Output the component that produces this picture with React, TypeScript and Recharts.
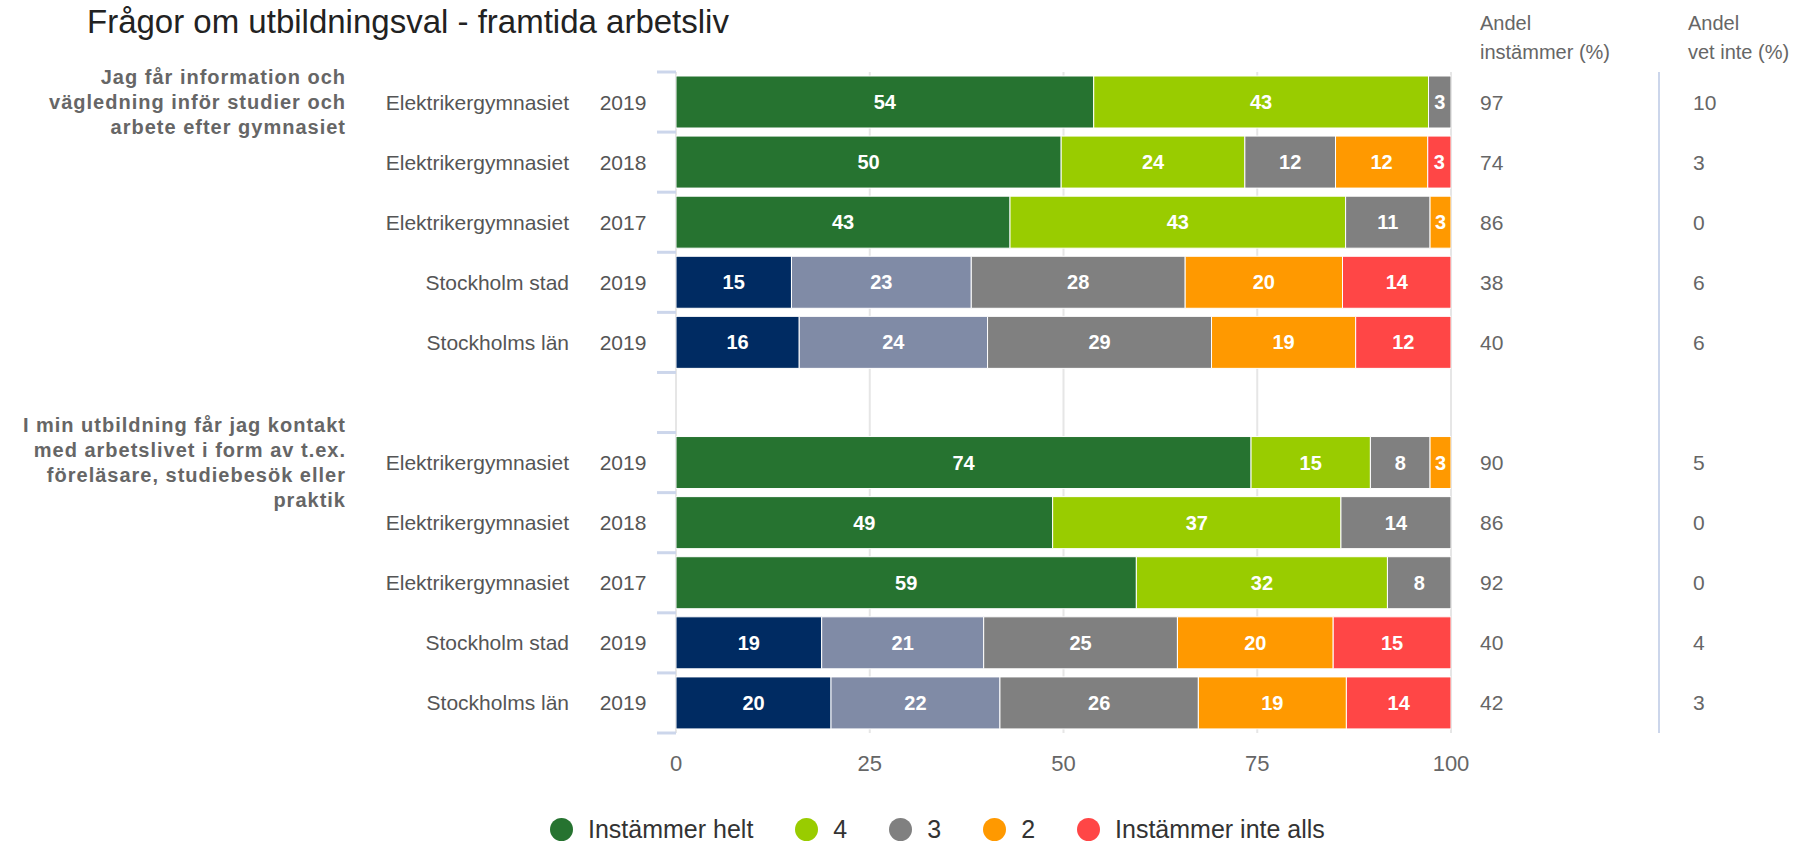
import React from "react";
import {
  BarChart,
  Bar,
  XAxis,
  YAxis,
  CartesianGrid,
  Cell,
  LabelList,
} from "recharts";

// rows, top to bottom (empty row = gap between the two questions)
const categories = [
  "Elektrikergymnasiet",
  "Elektrikergymnasiet",
  "Elektrikergymnasiet",
  "Stockholm stad",
  "Stockholms län",
  "",
  "Elektrikergymnasiet",
  "Elektrikergymnasiet",
  "Elektrikergymnasiet",
  "Stockholm stad",
  "Stockholms län",
];
const years = ["2019", "2018", "2017", "2019", "2019", "", "2019", "2018", "2017", "2019", "2019"];

const helt = [53.9, 49.7, 43.1, 14.9, 15.9, null, 74.2, 48.6, 59.4, 18.8, 20.0];
const fyra = [43.2, 23.7, 43.3, 23.2, 24.3, null, 15.4, 37.2, 32.4, 20.9, 21.8];
const tre = [2.9, 11.7, 10.9, 27.6, 28.9, null, 7.7, 14.2, 8.2, 25.0, 25.6];
const tva = [0, 11.9, 2.7, 20.3, 18.6, null, 2.7, 0, 0, 20.1, 19.1];
const inteAlls = [0, 3.0, 0, 14.0, 12.3, null, 0, 0, 0, 15.2, 13.5];

const andelInstammer = [97, 74, 86, 38, 40, null, 90, 86, 92, 40, 42];
const andelVetInte = [10, 3, 0, 6, 6, null, 5, 0, 0, 4, 3];

const questions = [
  { row: 0, lines: ["Jag får information och", "vägledning inför studier och", "arbete efter gymnasiet"] },
  {
    row: 6,
    lines: [
      "I min utbildning får jag kontakt",
      "med arbetslivet i form av t.ex.",
      "föreläsare, studiebesök eller",
      "praktik",
    ],
  },
];

const seriesNames = ["Instämmer helt", "4", "3", "2", "Instämmer inte alls"];
const seriesColors = ["#267330", "#99cc00", "#808080", "#ff9900", "#ff4646"];
const stockholmColors = ["#002b62", "#808ba6"];
const xTicks = [0, 25, 50, 75, 100];

const data = categories.map((name, i) => ({
  key: `r${i}`,
  name,
  year: years[i],
  helt: helt[i],
  fyra: fyra[i],
  tre: tre[i],
  tva: tva[i],
  inteAlls: inteAlls[i],
}));

const W = 1810;
const H = 841;
const PLOT_LEFT = 676;
const PLOT_RIGHT = 1451;
const PLOT_TOP = 72;
const PLOT_BOTTOM = 733;
const FONT = "'Liberation Sans', Arial, sans-serif";

const isStockholm = (i: number) => categories[i].startsWith("Stockholm");

const YTick = (props: any) => {
  const { y, payload } = props;
  const i = payload.index;
  const band = (PLOT_BOTTOM - PLOT_TOP) / data.length;
  const q = questions.find((g) => g.row === i);
  const lh = 25;
  return (
    <g fontFamily={FONT}>
      <line x1={657} x2={676} y1={y - band / 2} y2={y - band / 2} stroke="#ccd6eb" strokeWidth={3} />
      {i === data.length - 1 && (
        <line x1={657} x2={676} y1={y + band / 2} y2={y + band / 2} stroke="#ccd6eb" strokeWidth={3} />
      )}
      {categories[i] && (
        <text x={569} y={y} textAnchor="end" dominantBaseline="central" fontSize={21} fill="#555">
          {categories[i]}
        </text>
      )}
      {years[i] && (
        <text x={623} y={y} textAnchor="middle" dominantBaseline="central" fontSize={21} fill="#555">
          {years[i]}
        </text>
      )}
      {andelInstammer[i] != null && (
        <text x={1480} y={y} dominantBaseline="central" fontSize={21} fill="#666">
          {andelInstammer[i]}
        </text>
      )}
      {andelVetInte[i] != null && (
        <text x={1693} y={y} dominantBaseline="central" fontSize={21} fill="#666">
          {andelVetInte[i]}
        </text>
      )}
      {q &&
        q.lines.map((line, k) => (
          <text
            key={k}
            x={346}
            y={y + (k - (q.lines.length - 1) / 2) * lh}
            textAnchor="end"
            dominantBaseline="central"
            fontSize={20}
            fontWeight="bold"
            letterSpacing={1}
            fill="#666"
          >
            {line}
          </text>
        ))}
    </g>
  );
};

const renderLabel = (props: any) => {
  const { x, y, width, height, value } = props;
  if (value == null || value === "") return null;
  return (
    <text
      x={x + width / 2}
      y={y + height / 2}
      textAnchor="middle"
      dominantBaseline="central"
      fontFamily={FONT}
      fontSize={20}
      fontWeight="bold"
      fill="#fff"
    >
      {Math.round(Number(value))}
    </text>
  );
};

const seriesKeys = ["helt", "fyra", "tre", "tva", "inteAlls"];

export default function App() {
  return (
    <div style={{ position: "absolute", left: 0, top: 0, width: W, height: H, fontFamily: FONT, background: "#fff", overflow: "hidden" }}>
      <BarChart
        width={W}
        height={H}
        data={data}
        layout="vertical"
        margin={{ top: PLOT_TOP, right: W - PLOT_RIGHT, bottom: H - PLOT_BOTTOM - 50, left: 0 }}
      >
        <defs>
          <clipPath id="plotClip">
            <rect x={PLOT_LEFT} y={PLOT_TOP} width={PLOT_RIGHT - PLOT_LEFT} height={PLOT_BOTTOM - PLOT_TOP} />
          </clipPath>
        </defs>
        <CartesianGrid horizontal={false} stroke="#e6e6e6" strokeWidth={2} />
        <XAxis
          type="number"
          domain={[0, 100]}
          ticks={xTicks}
          allowDataOverflow
          height={50}
          axisLine={false}
          tickLine={false}
          tickSize={0}
          tickMargin={22}
          tick={{ fontSize: 22, fill: "#666", fontFamily: FONT }}
        />
        <YAxis
          type="category"
          dataKey="key"
          width={PLOT_LEFT}
          axisLine={false}
          tickLine={false}
          interval={0}
          tick={YTick}
        />
        {seriesKeys.map((k, s) => (
          <Bar
            key={k}
            dataKey={k}
            name={seriesNames[s]}
            stackId="a"
            fill={seriesColors[s]}
            stroke="#fff"
            strokeWidth={1}
            barSize={52}
            isAnimationActive={false}
          >
            {s < 2 &&
              data.map((_, i) => (
                <Cell key={i} fill={isStockholm(i) ? stockholmColors[s] : seriesColors[s]} />
              ))}
            <LabelList dataKey={k} content={renderLabel} clipPath="url(#plotClip)" />
          </Bar>
        ))}
      </BarChart>

      <svg width={W} height={H} style={{ position: "absolute", left: 0, top: 0, pointerEvents: "none" }}>
        <text x={87} y={33} fontSize={33} fill="#222" fontFamily={FONT}>
          Frågor om utbildningsval - framtida arbetsliv
        </text>
        <text x={1480} y={30} fontSize={20} fill="#666" fontFamily={FONT}>Andel</text>
        <text x={1480} y={59} fontSize={20} fill="#666" fontFamily={FONT}>instämmer (%)</text>
        <text x={1688} y={30} fontSize={20} fill="#666" fontFamily={FONT}>Andel</text>
        <text x={1688} y={59} fontSize={20} fill="#666" fontFamily={FONT}>vet inte (%)</text>
        <line x1={1659} x2={1659} y1={PLOT_TOP} y2={PLOT_BOTTOM} stroke="#ccd6eb" strokeWidth={2} />
      </svg>

      <div
        style={{
          position: "absolute",
          left: 550,
          top: 814,
          height: 30,
          display: "flex",
          alignItems: "center",
          fontSize: 25,
          color: "#333",
        }}
      >
        {seriesNames.map((n, s) => (
          <div key={n} style={{ display: "flex", alignItems: "center", marginRight: 42 }}>
            <span
              style={{
                width: 23,
                height: 23,
                borderRadius: "50%",
                background: seriesColors[s],
                marginRight: 15,
                display: "inline-block",
              }}
            />
            <span>{n}</span>
          </div>
        ))}
      </div>
    </div>
  );
}
